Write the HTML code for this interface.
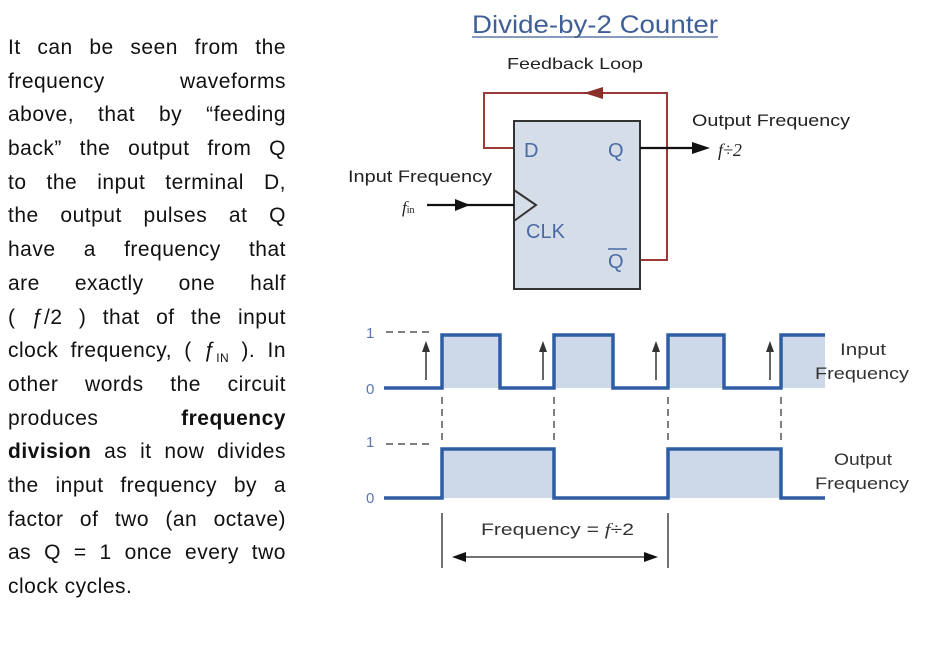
<!DOCTYPE html>
<html><head><meta charset="utf-8"><style>
body{margin:0;width:936px;height:655px;background:#fff;overflow:hidden;position:relative;font-family:"Liberation Sans",sans-serif}
.t{position:absolute;left:8px;top:31px;width:278px;font-size:21px;letter-spacing:0.5px;color:#111}
.t div{height:33.7px;line-height:33.7px;text-align:justify;text-align-last:justify;white-space:nowrap}
.t div.l{text-align-last:left}
svg{position:absolute;left:0;top:0}
</style></head><body>
<div class="t">
<div>It can be seen from the</div>
<div>frequency waveforms</div>
<div>above, that by “feeding</div>
<div>back” the output from Q</div>
<div>to the input terminal D,</div>
<div>the output pulses at Q</div>
<div>have a frequency that</div>
<div>are exactly one half</div>
<div>( ƒ/2 ) that of the input</div>
<div>clock frequency, ( ƒ<sub style="font-size:12px">IN</sub> ). In</div>
<div>other words the circuit</div>
<div>produces <b>frequency</b></div>
<div><b>division</b> as it now divides</div>
<div>the input frequency by a</div>
<div>factor of two (an octave)</div>
<div>as Q = 1 once every two</div>
<div class="l">clock cycles.</div>
</div>
<svg width="936" height="655" font-family="Liberation Sans, sans-serif">
<text x="472" y="33" font-size="25" fill="#3f5f96" textLength="246" lengthAdjust="spacingAndGlyphs">Divide-by-2 Counter</text>
<line x1="472" y1="37" x2="718" y2="37" stroke="#3f5f96" stroke-width="1.2"/>
<text x="507" y="69" font-size="16" fill="#222" textLength="136" lengthAdjust="spacingAndGlyphs">Feedback Loop</text>
<polyline points="514,148 484,148 484,93 667,93 667,260 640,260" fill="none" stroke="#9b3a36" stroke-width="2"/>
<polygon points="584,93 603,87 603,99" fill="#8b2e2a"/>
<rect x="514" y="121" width="126" height="168" fill="#d5dde9" stroke="#333" stroke-width="2"/>
<polyline points="514,190 536,205 514,221" fill="none" stroke="#333" stroke-width="2"/>
<text x="524" y="157" font-size="20" fill="#4a6aa5">D</text>
<text x="608" y="157" font-size="20" fill="#4a6aa5">Q</text>
<text x="526" y="238" font-size="20" fill="#4a6aa5">CLK</text>
<text x="608" y="268" font-size="20" fill="#4a6aa5">Q</text>
<line x1="608" y1="249" x2="627" y2="249" stroke="#4a6aa5" stroke-width="1.5"/>
<line x1="640" y1="148" x2="696" y2="148" stroke="#111" stroke-width="2.2"/>
<polygon points="710,148 692,142 692,154" fill="#111"/>
<text x="692" y="126" font-size="17" fill="#222" textLength="158" lengthAdjust="spacingAndGlyphs">Output Frequency</text>
<text x="718" y="156" font-size="18" font-family="Liberation Serif, serif" font-style="italic" fill="#222">f÷2</text>
<text x="348" y="182" font-size="17" fill="#222" textLength="144" lengthAdjust="spacingAndGlyphs">Input Frequency</text>
<text x="402" y="213" font-size="17" font-family="Liberation Serif, serif" font-style="italic" fill="#222">f<tspan font-size="10" font-style="normal">in</tspan></text>
<line x1="427" y1="205" x2="514" y2="205" stroke="#111" stroke-width="2.2"/>
<polygon points="470,205 455,199 455,211" fill="#111"/>
<g fill="#cdd8e8">
<rect x="442" y="335" width="58" height="53"/><rect x="554" y="335" width="59" height="53"/><rect x="668" y="335" width="56" height="53"/><rect x="781" y="335" width="44" height="53"/>
<rect x="442" y="449" width="112" height="49"/><rect x="668" y="449" width="113" height="49"/>
</g>
<polyline points="384,388 442,388 442,335 500,335 500,388 554,388 554,335 613,335 613,388 668,388 668,335 724,335 724,388 781,388 781,335 825,335" fill="none" stroke="#2e5da4" stroke-width="3.5"/>
<polyline points="384,498 442,498 442,449 554,449 554,498 668,498 668,449 781,449 781,498 825,498" fill="none" stroke="#2e5da4" stroke-width="3.5"/>
<g font-size="15" fill="#5a78b0"><text x="366" y="338">1</text><text x="366" y="394">0</text><text x="366" y="447">1</text><text x="366" y="503">0</text></g>
<g stroke="#555" stroke-width="1.5" stroke-dasharray="7,5"><line x1="386" y1="332" x2="434" y2="332"/><line x1="386" y1="444" x2="434" y2="444"/>
<line x1="442" y1="397" x2="442" y2="444"/><line x1="554" y1="397" x2="554" y2="444"/><line x1="668" y1="397" x2="668" y2="444"/><line x1="781" y1="397" x2="781" y2="444"/></g>
<g stroke="#333" stroke-width="1.5"><line x1="426" y1="380" x2="426" y2="350"/><line x1="543" y1="380" x2="543" y2="350"/><line x1="656" y1="380" x2="656" y2="350"/><line x1="770" y1="380" x2="770" y2="350"/></g>
<g fill="#333"><polygon points="426,341 422,352 430,352"/><polygon points="543,341 539,352 547,352"/><polygon points="656,341 652,352 660,352"/><polygon points="770,341 766,352 774,352"/></g>
<text x="840" y="355" font-size="17" fill="#333" textLength="46" lengthAdjust="spacingAndGlyphs">Input</text>
<text x="815" y="379" font-size="17" fill="#333" textLength="94" lengthAdjust="spacingAndGlyphs">Frequency</text>
<text x="834" y="465" font-size="17" fill="#333" textLength="58" lengthAdjust="spacingAndGlyphs">Output</text>
<text x="815" y="489" font-size="17" fill="#333" textLength="94" lengthAdjust="spacingAndGlyphs">Frequency</text>
<g stroke="#444" stroke-width="1.5"><line x1="442" y1="513" x2="442" y2="568"/><line x1="668" y1="513" x2="668" y2="568"/><line x1="455" y1="557" x2="655" y2="557"/></g>
<polygon points="452,557 466,552 466,562" fill="#111"/><polygon points="658,557 644,552 644,562" fill="#111"/>
<text x="481" y="535" font-size="17" fill="#333" textLength="153" lengthAdjust="spacingAndGlyphs">Frequency = <tspan font-family="Liberation Serif, serif" font-style="italic">f</tspan>÷2</text>
</svg>
</body></html>
